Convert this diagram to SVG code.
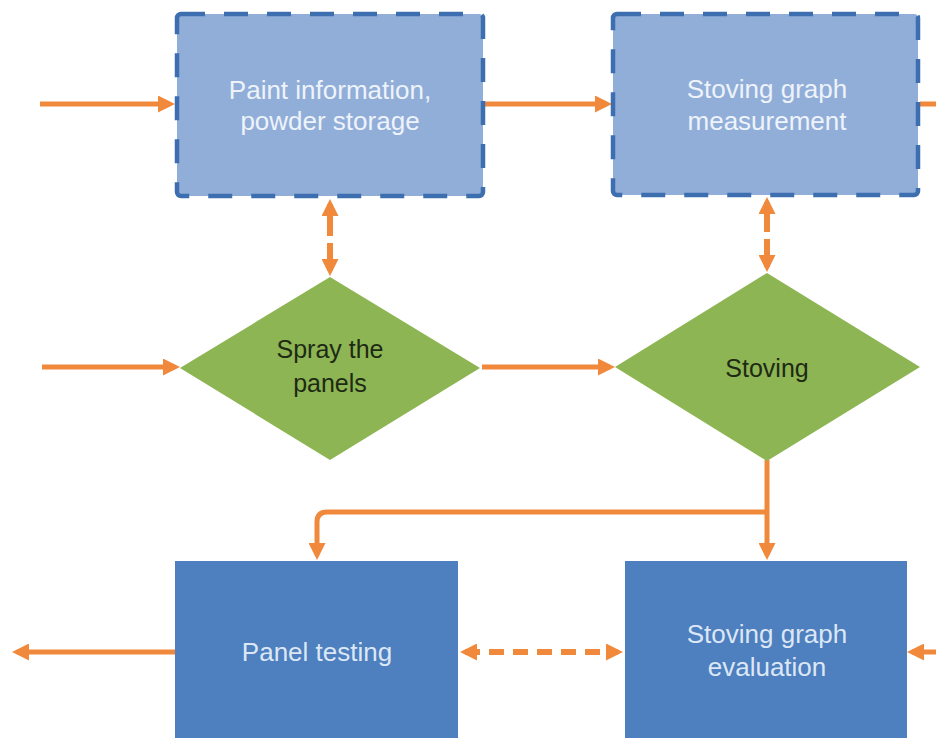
<svg xmlns="http://www.w3.org/2000/svg" width="936" height="738" viewBox="0 0 936 738">
<style>
.dbox{fill:#91AED9;stroke:#3D6FB0;stroke-width:4.5;stroke-dasharray:24 19}
.sbox{fill:#4E7FBE}
.dia{fill:#8DB553}
.lt{font-family:"Liberation Sans",Arial,sans-serif;font-size:26px;fill:#EEF3FA;text-anchor:middle}
.bt{font-family:"Liberation Sans",Arial,sans-serif;font-size:26px;fill:#DCE7F5;text-anchor:middle}
.dt{font-family:"Liberation Sans",Arial,sans-serif;font-size:25px;fill:#1E2A14;text-anchor:middle}
.c{fill:none;stroke:#F0893C;stroke-width:5}
.cd{fill:none;stroke:#F0893C;stroke-width:6}
</style>
<defs>
<marker id="ah" markerUnits="userSpaceOnUse" markerWidth="17" markerHeight="17" refX="12" refY="8.5" orient="auto-start-reverse" viewBox="0 0 17 17">
<path d="M0,0 L17,8.5 L0,17 z" fill="#F0893C"/>
</marker>
</defs>
<rect width="936" height="738" fill="#FFFFFF"/>
<g id="connectors">
<line class="c" x1="40" y1="104" x2="170" y2="104" marker-end="url(#ah)"/>
<line class="c" x1="485" y1="104" x2="607" y2="104" marker-end="url(#ah)"/>
<line class="c" x1="920" y1="104" x2="936" y2="104"/>
<line class="c" x1="42" y1="367" x2="175" y2="367" marker-end="url(#ah)"/>
<line class="c" x1="482" y1="367" x2="610" y2="367" marker-end="url(#ah)"/>
<line class="cd" x1="330" y1="204" x2="330" y2="271" stroke-dasharray="32 7" marker-start="url(#ah)" marker-end="url(#ah)"/>
<line class="cd" x1="767" y1="202" x2="767" y2="267" stroke-dasharray="30 7" marker-start="url(#ah)" marker-end="url(#ah)"/>
<line class="c" x1="767" y1="460" x2="767" y2="555" marker-end="url(#ah)"/>
<path class="c" d="M767,512 H327 Q317,512 317,522 V555" marker-end="url(#ah)"/>
<line class="c" x1="175" y1="652" x2="17" y2="652" marker-end="url(#ah)"/>
<line class="cd" x1="465" y1="652" x2="618" y2="652" stroke-dasharray="15 9" marker-start="url(#ah)" marker-end="url(#ah)"/>
<line class="c" x1="936" y1="652" x2="912" y2="652" marker-end="url(#ah)"/>
</g>
<g id="paint-info">
<rect class="dbox" x="177" y="14" width="306" height="182" rx="4"/>
<text class="lt" x="330" y="99">Paint information,</text>
<text class="lt" x="330" y="130">powder storage</text>
</g>
<g id="stoving-graph-measurement">
<rect class="dbox" x="613" y="14" width="305" height="181" rx="4"/>
<text class="lt" x="767" y="98">Stoving graph</text>
<text class="lt" x="767" y="130">measurement</text>
</g>
<g id="spray-panels">
<polygon class="dia" points="330,277 480,368 330,460 180,368"/>
<text class="dt" x="330" y="358">Spray the</text>
<text class="dt" x="330" y="392">panels</text>
</g>
<g id="stoving">
<polygon class="dia" points="767,273 920,367 767,461 615,367"/>
<text class="dt" x="767" y="377">Stoving</text>
</g>
<g id="panel-testing">
<rect class="sbox" x="175" y="561" width="283" height="180"/>
<text class="bt" x="317" y="661">Panel testing</text>
</g>
<g id="stoving-graph-evaluation">
<rect class="sbox" x="625" y="561" width="282" height="180"/>
<text class="bt" x="767" y="643">Stoving graph</text>
<text class="bt" x="767" y="676">evaluation</text>
</g>
</svg>
